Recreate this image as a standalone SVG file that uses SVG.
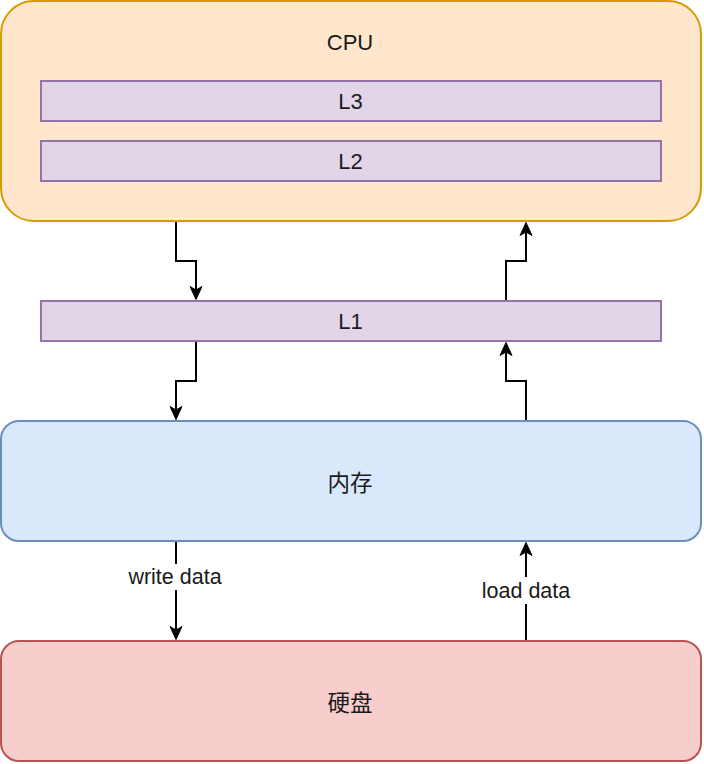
<svg xmlns="http://www.w3.org/2000/svg" width="704" height="764" viewBox="0 0 704 764">
  <defs>
    <style>
      .lbl { font-family: "Liberation Sans", Arial, "Noto Sans CJK SC", sans-serif; font-size: 22px; fill: #1a1a1a; text-anchor: middle; }
      .cjk { font-family: "Noto Sans CJK SC", "Liberation Sans", sans-serif; font-size: 22.5px; fill: #1a1a1a; text-anchor: middle; }
      .edge-lbl { font-family: "Liberation Sans", Arial, sans-serif; font-size: 21.5px; fill: #1a1a1a; text-anchor: middle; }
      .cpu { fill: #ffe6cc; stroke: #d79b00; stroke-width: 2; }
      .cache { fill: #e1d5e7; stroke: #9673a6; stroke-width: 2; }
      .mem { fill: #dae8fc; stroke: #6c8ebf; stroke-width: 2; }
      .disk { fill: #f8cecc; stroke: #b85450; stroke-width: 2; }
      .conn { fill: none; stroke: #000; stroke-width: 2; marker-end: url(#arrow); }
    </style>
    <marker id="arrow" markerUnits="userSpaceOnUse" orient="auto" markerWidth="24" markerHeight="24" refX="0" refY="0" overflow="visible">
      <path d="M9.5,0 L-3.5,-6 L0,0 L-3.5,6 Z" fill="#000" stroke="#000" stroke-width="1" stroke-linejoin="miter"/>
    </marker>
  </defs>

  <rect width="704" height="764" fill="#ffffff"/>

  <g id="cpu">
    <rect class="cpu" x="1" y="1" width="700" height="220" rx="33" ry="33"/>
    <text class="lbl" x="350" y="49.5">CPU</text>
  </g>
  <g id="l3">
    <rect class="cache" x="41" y="81" width="620" height="40"/>
    <text class="lbl" x="350.5" y="108.8">L3</text>
  </g>
  <g id="l2">
    <rect class="cache" x="41" y="141" width="620" height="40"/>
    <text class="lbl" x="350.5" y="168.8">L2</text>
  </g>
  <g id="l1">
    <rect class="cache" x="41" y="301" width="620" height="40"/>
    <text class="lbl" x="350.5" y="328.8">L1</text>
  </g>
  <g id="memory">
    <rect class="mem" x="1" y="421" width="700" height="120" rx="18" ry="18"/>
    <text class="cjk" x="350" y="481" dominant-baseline="central">内存</text>
  </g>
  <g id="disk">
    <rect class="disk" x="1" y="641" width="700" height="120" rx="18" ry="18"/>
    <text class="cjk" x="350" y="701" dominant-baseline="central">硬盘</text>
  </g>

  <g id="connectors">
    <path class="conn" d="M176,222 V261 H196 V290"/>
    <path class="conn" d="M196,342 V381 H176 V410"/>
    <path class="conn" d="M526,420 V381 H506 V352"/>
    <path class="conn" d="M506,300 V261 H526 V232"/>
    <path class="conn" d="M176,542 V630"/>
    <path class="conn" d="M526,640 V552"/>
    <rect x="125" y="564" width="100" height="26" fill="#ffffff"/>
    <text class="edge-lbl" x="175" y="584">write data</text>
    <rect x="480" y="577" width="92" height="27" fill="#ffffff"/>
    <text class="edge-lbl" x="526" y="597.5">load data</text>
  </g>
</svg>
